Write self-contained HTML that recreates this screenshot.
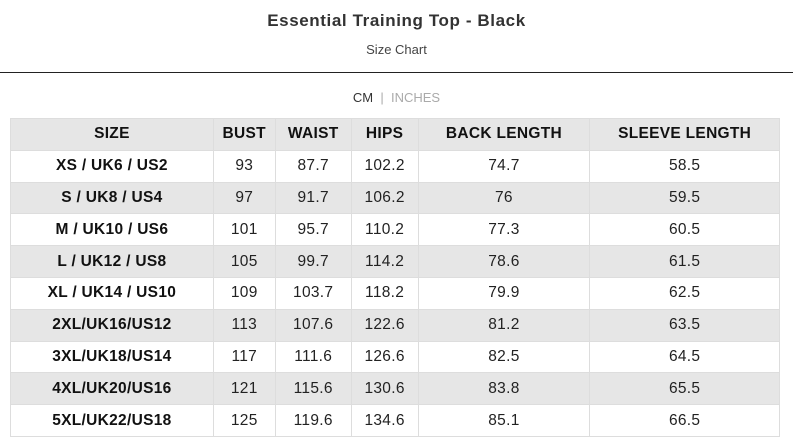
<!DOCTYPE html><html><head><style>
body{margin:0;width:793px;height:445px;background:#fff;font-family:"Liberation Sans",sans-serif;color:#222;position:relative;overflow:hidden}
.t{position:absolute;top:11px;width:100%;text-align:center;font-size:17px;font-weight:bold;color:#333;letter-spacing:0.6px}
.s{position:absolute;top:42px;width:100%;text-align:center;font-size:13px;color:#444}
.hr{position:absolute;top:72px;left:0;width:793px;height:1px;background:#222}
.u{position:absolute;top:90px;width:100%;text-align:center;font-size:13px;color:#333}
.u span{color:#aaa}
table{position:absolute;top:118px;left:10px;width:770px;border-collapse:collapse;font-size:15.5px;letter-spacing:0.3px}
td,th{border:1px solid #ddd;text-align:center;height:30.8px;padding:0}
th{font-weight:bold;background:#e6e6e6;color:#111}
tr:nth-child(odd) td{background:#e6e6e6}
td:first-child{font-weight:bold;color:#111}
</style></head><body>
<div class="t">Essential Training Top - Black</div>
<div class="s">Size Chart</div>
<div class="hr"></div>
<div class="u">CM &nbsp;<span>|</span>&nbsp; <span>INCHES</span></div>
<table>
<colgroup><col style="width:203px"><col style="width:62px"><col style="width:76px"><col style="width:67px"><col style="width:172px"><col style="width:190px"></colgroup>
<tr><th>SIZE</th><th>BUST</th><th>WAIST</th><th>HIPS</th><th>BACK LENGTH</th><th>SLEEVE LENGTH</th></tr>
<tr><td>XS / UK6 / US2</td><td>93</td><td>87.7</td><td>102.2</td><td>74.7</td><td>58.5</td></tr>
<tr><td>S / UK8 / US4</td><td>97</td><td>91.7</td><td>106.2</td><td>76</td><td>59.5</td></tr>
<tr><td>M / UK10 / US6</td><td>101</td><td>95.7</td><td>110.2</td><td>77.3</td><td>60.5</td></tr>
<tr><td>L / UK12 / US8</td><td>105</td><td>99.7</td><td>114.2</td><td>78.6</td><td>61.5</td></tr>
<tr><td>XL / UK14 / US10</td><td>109</td><td>103.7</td><td>118.2</td><td>79.9</td><td>62.5</td></tr>
<tr><td>2XL/UK16/US12</td><td>113</td><td>107.6</td><td>122.6</td><td>81.2</td><td>63.5</td></tr>
<tr><td>3XL/UK18/US14</td><td>117</td><td>111.6</td><td>126.6</td><td>82.5</td><td>64.5</td></tr>
<tr><td>4XL/UK20/US16</td><td>121</td><td>115.6</td><td>130.6</td><td>83.8</td><td>65.5</td></tr>
<tr><td>5XL/UK22/US18</td><td>125</td><td>119.6</td><td>134.6</td><td>85.1</td><td>66.5</td></tr>
</table>
</body></html>
